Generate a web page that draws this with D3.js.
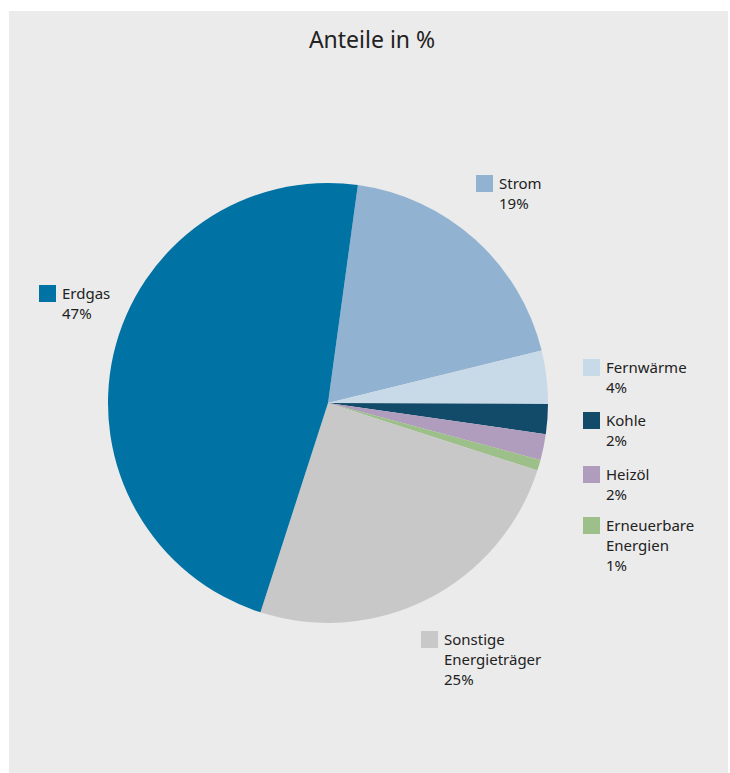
<!DOCTYPE html>
<html>
<head>
<meta charset="utf-8">
<script src="https://cdn.jsdelivr.net/npm/d3@7"></script>
<style>
  html, body { margin: 0; padding: 0; background: #ffffff; }
  svg { display: block; }
  text { font-family: "Noto Sans", "Open Sans", sans-serif; fill: #222; }
</style>
</head>
<body>
<svg id="chart" width="730" height="773"></svg>
<script>
// Data (clockwise from the top, starting at Strom)
const categories = ["Strom", "Fernwärme", "Kohle", "Heizöl", "Erneuerbare Energien", "Sonstige Energieträger", "Erdgas"];
const values = [19.0, 3.9, 2.2, 1.9, 0.8, 25.0, 47.2];
const valueLabels = ["19%", "4%", "2%", "2%", "1%", "25%", "47%"];
const labelLines = [["Strom"], ["Fernwärme"], ["Kohle"], ["Heizöl"], ["Erneuerbare", "Energien"], ["Sonstige", "Energieträger"], ["Erdgas"]];
const colors = ["#91b3d1", "#c8d9e8", "#124a69", "#b09cbd", "#9dbf8a", "#c8c8c8", "#0072a3"];
const title = "Anteile in %";

const svg = d3.select("#chart");
svg.append("rect").attr("x", 9).attr("y", 11).attr("width", 719).attr("height", 762).attr("fill", "#ebebeb");

svg.append("text").attr("x", 372).attr("y", 48).attr("text-anchor", "middle")
  .attr("font-size", 23).text(title);

const cx = 328, cy = 403, r = 220;
const startDeg = 7.8;
const pie = d3.pie().sort(null).value(d => d)
  .startAngle(startDeg * Math.PI / 180)
  .endAngle((startDeg + 360) * Math.PI / 180);
const arc = d3.arc().innerRadius(0).outerRadius(r);
const color = d3.scaleOrdinal().domain(categories).range(colors);

const g = svg.append("g").attr("transform", `translate(${cx},${cy})`);
g.selectAll("path").data(pie(values)).join("path")
  .attr("d", arc)
  .attr("fill", (d, i) => color(categories[i]));

// Legend positions (square top-left)
const legendPos = [
  [476, 175], [583, 359], [583, 412], [583, 466], [583, 517], [421, 631], [39, 285]
];
const leg = svg.append("g");
categories.forEach((c, i) => {
  const [x, y] = legendPos[i];
  const item = leg.append("g");
  item.append("rect").attr("x", x).attr("y", y).attr("width", 17).attr("height", 17)
    .attr("fill", color(c));
  const lines = labelLines[i].concat([valueLabels[i]]);
  lines.forEach((t, j) => {
    item.append("text").attr("x", x + 23).attr("y", y + 14 + j * 20)
      .attr("font-size", 15).text(t);
  });
});
</script>
</body>
</html>
